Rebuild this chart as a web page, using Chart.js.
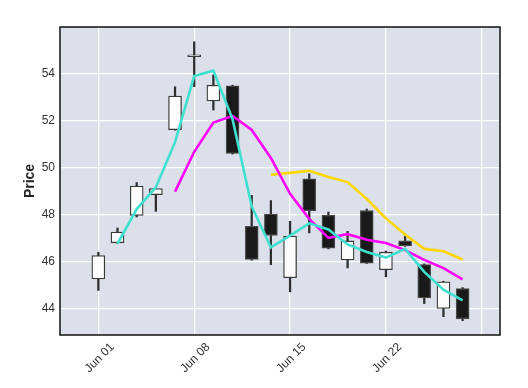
<!DOCTYPE html>
<html>
<head>
<meta charset="utf-8">
<script src="https://cdn.jsdelivr.net/npm/chart.js@4/dist/chart.umd.min.js"></script>
<style>
  html, body { margin: 0; padding: 0; background: #ffffff; }
  #wrap { width: 528px; height: 388px; position: relative; }
</style>
</head>
<body>
<div id="wrap"><canvas id="c" width="528" height="388"></canvas></div>
<script>
// ---- data ----
const categories = ['Jun 01','Jun 02','Jun 03','Jun 04','Jun 05',
                    'Jun 08','Jun 09','Jun 10','Jun 11','Jun 12',
                    'Jun 15','Jun 16','Jun 17','Jun 18','Jun 19',
                    'Jun 22','Jun 23','Jun 24','Jun 25','Jun 26'];
const opens  = [45.26, 46.80, 47.97, 48.85, 51.62, 54.73, 52.85, 53.49, 47.50, 48.03,
                45.31, 49.53, 47.97, 46.07, 48.17, 45.65, 46.88, 45.87, 44.00, 44.85];
const highs  = [46.40, 47.43, 49.37, 49.13, 53.45, 55.37, 53.96, 53.52, 48.82, 48.60,
                47.72, 49.74, 48.11, 47.29, 48.24, 46.45, 47.08, 45.90, 45.16, 44.89];
const lows   = [44.77, 46.78, 47.90, 48.14, 51.60, 53.46, 52.46, 50.58, 46.06, 45.87,
                44.71, 47.22, 46.54, 45.73, 45.92, 45.35, 46.65, 44.21, 43.65, 43.48];
const closes = [46.26, 47.26, 49.22, 49.11, 53.06, 54.75, 53.52, 50.61, 46.09, 47.12,
                47.09, 48.17, 46.57, 46.88, 45.93, 46.40, 46.67, 44.45, 45.14, 43.56];
const ma2  = [null, 46.76, 48.24, 49.17, 51.09, 53.91, 54.14, 52.07, 48.35, 46.61,
              47.11, 47.63, 47.37, 46.73, 46.41, 46.17, 46.54, 45.56, 44.80, 44.35];
const ma5  = [null, null, null, null, 48.98, 50.68, 51.93, 52.21, 51.61, 50.42,
              48.89, 47.82, 47.01, 47.17, 46.93, 46.79, 46.49, 46.07, 45.72, 45.24];
const ma10 = [null, null, null, null, null, null, null, null, null, 49.70,
              49.78, 49.87, 49.61, 49.39, 48.67, 47.84, 47.15, 46.54, 46.44, 46.09];
const xTickPositions = [0, 5, 10, 15, 20];
const yTickValues = [44, 46, 48, 50, 52, 54];

// ---- build datasets ----
const up = closes.map((c, i) => c >= opens[i]);
const bodyData = categories.map((_, i) => ({ x: i, y: [opens[i], closes[i]] }));
const wickData = categories.map((_, i) => ({ x: i, y: [lows[i], highs[i]] }));
const toLine = arr => arr.map((v, i) => ({ x: i, y: v })).filter(p => p.y !== null);

const plotBg = {
  id: 'plotBg',
  beforeDraw(chart) {
    const { ctx, chartArea: a } = chart;
    ctx.save();
    ctx.fillStyle = '#dbe0ea';
    ctx.fillRect(a.left, a.top, a.right - a.left, a.bottom - a.top);
    ctx.restore();
  },
  afterDraw(chart) {
    const { ctx, chartArea: a } = chart;
    ctx.save();
    ctx.strokeStyle = '#1e1e1e';
    ctx.lineWidth = 1.6;
    ctx.strokeRect(a.left, a.top, a.right - a.left, a.bottom - a.top);
    ctx.restore();
  }
};

new Chart(document.getElementById('c'), {
  type: 'bar',
  data: {
    datasets: [
      { type: 'line', data: toLine(ma2), borderColor: '#40e0d0', borderWidth: 2.6,
        pointRadius: 0, fill: false, order: 0, tension: 0 },
      { type: 'line', data: toLine(ma5), borderColor: '#ff00ff', borderWidth: 2.6,
        pointRadius: 0, fill: false, order: 0, tension: 0 },
      { type: 'line', data: toLine(ma10), borderColor: '#ffd700', borderWidth: 2.6,
        pointRadius: 0, fill: false, order: 0, tension: 0 },
      { data: bodyData, grouped: false, order: 1, barThickness: 13, minBarLength: 2,
        backgroundColor: up.map(u => u ? '#fcfcfd' : '#1a1a1a'),
        borderColor: up.map(u => u ? '#3a3a3a' : '#4a4a4a'),
        borderWidth: 1.3, borderSkipped: false },
      { data: wickData, grouped: false, order: 2, barThickness: 1.6,
        backgroundColor: '#2e2e2e', borderWidth: 0 }
    ]
  },
  options: {
    responsive: false,
    animation: false,
    events: [],
    layout: { padding: { top: 27, right: 28, left: 22, bottom: 0 } },
    plugins: { legend: { display: false }, tooltip: { enabled: false } },
    scales: {
      x: {
        type: 'linear', min: -2, max: 20.95, offset: false,
        afterBuildTicks: s => { s.ticks = xTickPositions.map(v => ({ value: v })); },
        afterFit: s => { s.height = 53; },
        grid: { color: '#ffffff', lineWidth: 1.3, drawTicks: false, offset: false },
        border: { display: false },
        ticks: {
          autoSkip: false, maxRotation: 45, minRotation: 45, padding: 5, labelOffset: 14,
          color: '#333333', font: { family: 'Liberation Sans', size: 12 },
          callback: v => categories[v] !== undefined ? categories[v] : ''
        }
      },
      y: {
        min: 42.87, max: 56.0,
        afterBuildTicks: s => { s.ticks = yTickValues.map(v => ({ value: v })); },
        afterFit: s => { s.width = 38; },
        grid: { color: '#ffffff', lineWidth: 1.3, drawTicks: false },
        border: { display: false },
        ticks: { padding: 5, color: '#333333', font: { family: 'Liberation Sans', size: 12 } },
        title: { display: true, text: 'Price', color: '#222222', padding: { top: 0, bottom: 4 },
                 font: { family: 'Liberation Sans', size: 14, weight: 'bold' } }
      }
    }
  },
  plugins: [plotBg]
});
</script>
</body>
</html>
